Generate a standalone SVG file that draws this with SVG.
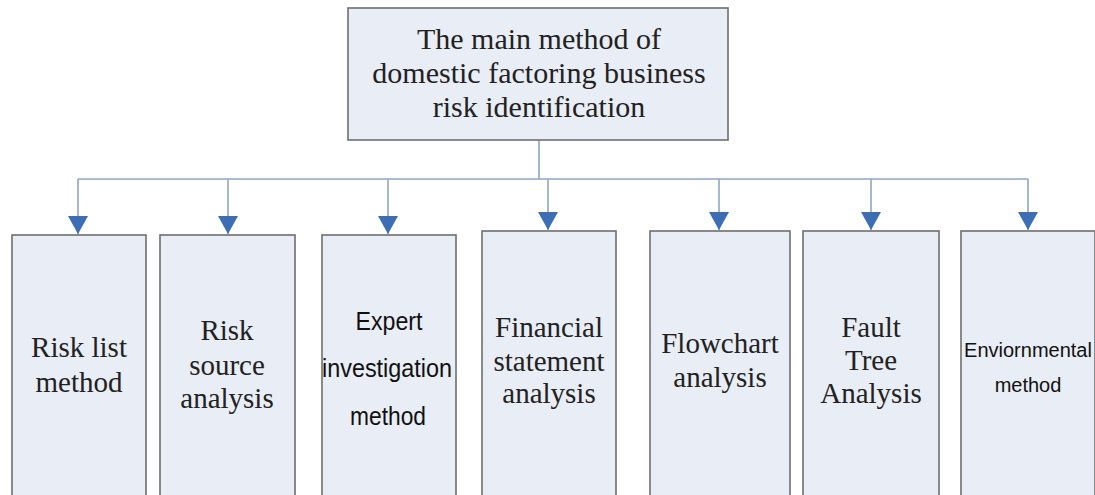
<svg xmlns="http://www.w3.org/2000/svg" width="1095" height="495" viewBox="0 0 1095 495">
<style>
.box{fill:#e9edf6;stroke:#6e6e6e;stroke-width:1.6}
.serif{font-family:"Liberation Serif","Times New Roman",serif;fill:#222;text-anchor:middle}
.sans{font-family:"Liberation Sans",Arial,sans-serif;fill:#111;text-anchor:middle}
.conn{fill:none;stroke:#8ea6c6;stroke-width:1.6}
</style>
<defs>
<marker id="arr" markerUnits="userSpaceOnUse" markerWidth="18" markerHeight="20" viewBox="0 0 18 20" refX="18" refY="10" orient="auto">
<path d="M0,0 L18,10 L0,20 Z" fill="#3d6db3"/>
</marker>
</defs>
<rect width="1095" height="495" fill="#ffffff"/>
<g id="connectors">
<line class="conn" x1="539" y1="140" x2="539" y2="179"/>
<line class="conn" x1="78" y1="179" x2="1028" y2="179"/>
<line class="conn" x1="78" y1="179" x2="78" y2="234" marker-end="url(#arr)"/>
<line class="conn" x1="228" y1="179" x2="228" y2="234" marker-end="url(#arr)"/>
<line class="conn" x1="388" y1="179" x2="388" y2="234" marker-end="url(#arr)"/>
<line class="conn" x1="548" y1="179" x2="548" y2="230" marker-end="url(#arr)"/>
<line class="conn" x1="719" y1="179" x2="719" y2="230" marker-end="url(#arr)"/>
<line class="conn" x1="871" y1="179" x2="871" y2="230" marker-end="url(#arr)"/>
<line class="conn" x1="1028" y1="179" x2="1028" y2="230" marker-end="url(#arr)"/>
</g>
<g id="root">
<rect class="box" x="348" y="8" width="380" height="132"/>
<text class="serif" font-size="30" x="539" y="49">The main method of</text>
<text class="serif" font-size="30" x="539" y="83">domestic factoring business</text>
<text class="serif" font-size="30" x="539" y="117">risk identification</text>
</g>
<g id="n1">
<rect class="box" x="12" y="235" width="134" height="270"/>
<text class="serif" font-size="29" x="79" y="357">Risk list</text>
<text class="serif" font-size="29" x="79" y="392">method</text>
</g>
<g id="n2">
<rect class="box" x="160" y="235" width="135" height="270"/>
<text class="serif" font-size="29" x="227" y="340">Risk</text>
<text class="serif" font-size="29" x="227" y="375">source</text>
<text class="serif" font-size="29" x="227" y="408">analysis</text>
</g>
<g id="n3">
<rect class="box" x="322" y="235" width="134" height="270"/>
<text class="sans" font-size="26" x="389" y="330" textLength="67" lengthAdjust="spacingAndGlyphs">Expert</text>
<text class="sans" font-size="26" x="387" y="377" textLength="130" lengthAdjust="spacingAndGlyphs">investigation</text>
<text class="sans" font-size="26" x="388" y="425" textLength="76" lengthAdjust="spacingAndGlyphs">method</text>
</g>
<g id="n4">
<rect class="box" x="482" y="231" width="134" height="274"/>
<text class="serif" font-size="29" x="549" y="337">Financial</text>
<text class="serif" font-size="29" x="549" y="371">statement</text>
<text class="serif" font-size="29" x="549" y="403">analysis</text>
</g>
<g id="n5">
<rect class="box" x="650" y="231" width="140" height="274"/>
<text class="serif" font-size="29" x="720" y="353">Flowchart</text>
<text class="serif" font-size="29" x="720" y="387">analysis</text>
</g>
<g id="n6">
<rect class="box" x="803" y="231" width="136" height="274"/>
<text class="serif" font-size="29" x="871" y="337">Fault</text>
<text class="serif" font-size="29" x="871" y="370">Tree</text>
<text class="serif" font-size="29" x="871" y="403">Analysis</text>
</g>
<g id="n7">
<rect class="box" x="961" y="231" width="134" height="274"/>
<text class="sans" font-size="20" x="1028" y="357">Enviornmental</text>
<text class="sans" font-size="20" x="1028" y="392">method</text>
</g>
</svg>
